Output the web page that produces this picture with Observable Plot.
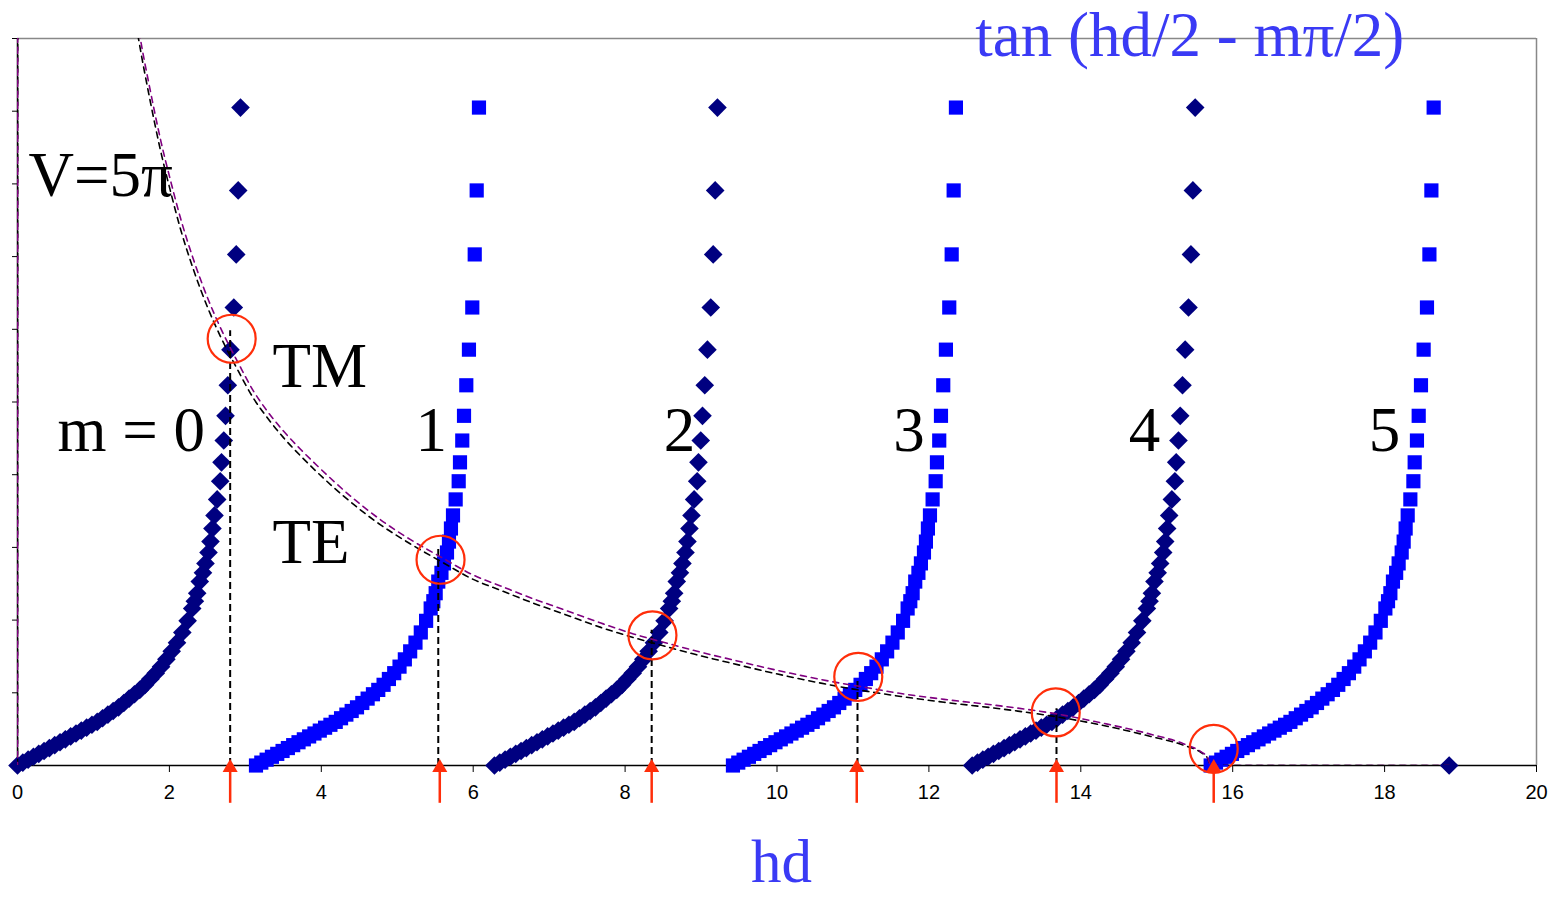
<!DOCTYPE html>
<html>
<head>
<meta charset="utf-8">
<script src="https://cdn.jsdelivr.net/npm/d3@7"></script>
<script src="https://cdn.jsdelivr.net/npm/@observablehq/plot@0.6"></script>
<style>
  html, body { margin: 0; padding: 0; background: #fff; }
  #chart svg { display: block; }
</style>
</head>
<body>
<div id="chart"></div>
<script>
// ---------- data ----------
// branch starting points (hd) for the two marker series
const darkBranchStarts = [0, 6.28, 12.57];      // m = 0, 2, 4  (navy diamonds)
const blueBranchStarts = [3.14, 9.42, 15.71];   // m = 1, 3, 5  (blue squares)
const extraDarkX = [18.85];                     // lone diamond on the axis
const extraDarkY = [0];

// shape of one tan(hd/2 - m*pi/2) branch, read from the m = 0 branch
const branchOffset = [0.00,0.07,0.14,0.21,0.28,0.35,0.42,0.49,0.56,0.63,0.70,0.77,0.84,0.91,0.98,1.05,1.12,1.19,1.26,1.33,1.40,1.47,1.54,1.61,1.68,1.75,1.82,1.89,1.96,2.03,2.10,2.17,2.24,2.30,2.335,2.366,2.400,2.442,2.475,2.515,2.541,2.567,2.594,2.629,2.669,2.686,2.716,2.739,2.769,2.804,2.848,2.880,2.906,2.936];
const branchValue  = [0.00,0.04,0.08,0.12,0.16,0.20,0.24,0.28,0.32,0.36,0.40,0.44,0.48,0.52,0.56,0.60,0.65,0.70,0.75,0.80,0.86,0.92,0.98,1.04,1.11,1.19,1.27,1.36,1.46,1.57,1.69,1.83,1.99,2.16,2.26,2.37,2.53,2.65,2.78,2.93,3.08,3.26,3.44,3.66,3.91,4.17,4.47,4.81,5.23,5.72,6.30,7.03,7.91,9.05];

// dashed curves (TE black, TM purple)
const teX = [0,0.02,0.5,1.0,1.3,1.5,1.593,1.751,1.883,2.014,2.146,2.317,2.515,2.673,2.910,3.107,3.292,3.502,3.726,3.950,4.38,4.78,5.17,5.57,6.00,6.36,6.80,7.15,7.68,8.11,8.56,8.99,9.43,9.87,10.31,10.74,11.19,11.63,12.20,12.94,13.68,14.30,14.92,15.35,15.58,15.67,15.71,17.0,18.85];
const teY = [0,60,31,15.7,12.0,10.6,10.0,9.12,8.46,7.90,7.38,6.82,6.27,5.90,5.42,5.05,4.78,4.51,4.26,4.03,3.63,3.31,3.05,2.81,2.56,2.41,2.23,2.10,1.90,1.76,1.63,1.51,1.40,1.29,1.19,1.10,1.02,0.95,0.87,0.78,0.67,0.55,0.40,0.28,0.18,0.10,0,0,0];
const tmX = teX;
const tmY = [0,60,31,15.9,12.2,10.8,10.15,9.27,8.61,8.05,7.53,6.96,6.40,6.02,5.53,5.15,4.87,4.60,4.35,4.12,3.71,3.38,3.11,2.87,2.62,2.47,2.29,2.16,1.96,1.81,1.68,1.56,1.45,1.34,1.24,1.15,1.07,0.99,0.91,0.82,0.71,0.58,0.43,0.30,0.19,0.11,0,0,0];

// intersections (red circles), vertical drop lines and arrows
const crossX = [2.82, 5.57, 8.36, 11.07, 13.67, 15.75];
const crossY = [5.87, 2.83, 1.79, 1.22, 0.73, 0.23];
const dropX = [2.80, 5.54, 8.35, 11.06, 13.68];
const dropTop = [5.98, 3.00, 1.86, 1.21, 0.78];
const arrowX = [2.80, 5.56, 8.35, 11.05, 13.68, 15.75];

// axes
const xTicks = [0,2,4,6,8,10,12,14,16,18,20];
const yTicks = [0,1,2,3,4,5,6,7,8,9,10];

// annotations
const noteText = ["V=5\u03c0", "TM", "TE", "m = 0", "1", "2", "3", "4", "5"];
const noteX    = [0.145, 3.357, 3.357, 0.527, 5.24, 8.51, 11.53, 14.63, 17.79];
const noteY    = [7.83, 5.20, 2.79, 4.33, 4.33, 4.33, 4.33, 4.33, 4.33];
const titleText = ["tan (hd/2 - m\u03c0/2)"];
const axisTitle = ["hd"];

// ---------- build tables ----------
const profile = branchOffset.map((o, i) => ({o, v: branchValue[i]}));
const dark = darkBranchStarts.flatMap(s => profile.map(p => ({x: s + p.o, y: p.v})))
  .concat(extraDarkX.map((x, i) => ({x, y: extraDarkY[i]})));
const blue = blueBranchStarts.flatMap(s => profile.map(p => ({x: s + p.o, y: p.v})));
const te = teX.map((x, i) => ({x, y: teY[i]}));
const tm = tmX.map((x, i) => ({x, y: tmY[i]}));
const crosses = crossX.map((x, i) => ({x, y: crossY[i]}));
const drops = dropX.map((x, i) => ({x, top: dropTop[i]}));
const arrows = arrowX.map(x => ({x}));
const notes = noteText.map((t, i) => ({t, x: noteX[i], y: noteY[i]}));

const serif = "'Liberation Serif', 'Times New Roman', serif";
const blueText = "#3a3af5";
const red = "#ff2e0a";

const chart = Plot.plot({
  width: 1551,
  height: 897,
  marginLeft: 17,
  marginRight: 15,
  marginTop: 38,
  marginBottom: 132,
  style: {fontFamily: "'Liberation Sans', Arial, sans-serif", fontSize: "20px", background: "#fff", overflow: "visible"},
  x: {domain: [0, 20]},
  y: {domain: [0, 10]},
  marks: [
    Plot.ruleY([10], {stroke: "#888", strokeWidth: 1.5}),
    Plot.ruleX([20], {stroke: "#888", strokeWidth: 1.5}),
    Plot.axisY({ticks: yTicks, tickSize: 5, tickFormat: () => "", stroke: "#000"}),
    Plot.axisX({ticks: xTicks, tickSize: 7, tickPadding: 12, fontSize: 20, label: null, fill: "#000", stroke: "#000"}),
    Plot.ruleX([0], {stroke: "#000", strokeWidth: 1.5}),
    Plot.ruleY([0], {stroke: "#000", strokeWidth: 1.5}),
    Plot.dot(dark, {x: "x", y: "y", symbol: "diamond2", r: 8.4, fill: "#000080", stroke: "none"}),
    Plot.dot(blue, {x: "x", y: "y", symbol: "square", r: 8, fill: "#0000ff", stroke: "none"}),
    Plot.ruleX(drops, {x: "x", y1: 0, y2: "top", stroke: "#000", strokeWidth: 2, strokeDasharray: "7,4"}),
    Plot.line(te, {x: "x", y: "y", clip: true, stroke: "#000", strokeWidth: 1.6, strokeDasharray: "6,5", curve: "monotone-x"}),
    Plot.line(tm, {x: "x", y: "y", clip: true, stroke: "#800080", strokeWidth: 1.6, strokeDasharray: "6,5", strokeDashoffset: 3, curve: "monotone-x"}),
    Plot.dot(crosses, {x: "x", y: "y", r: 24, stroke: red, strokeWidth: 2.2, fill: "none"}),
    Plot.ruleX(arrows, {x: "x", y1: -0.52, y2: 0, stroke: red, strokeWidth: 2.5}),
    Plot.dot(arrows, {x: "x", y: () => -0.03, symbol: "triangle", r: 5.6, fill: red, stroke: "none"}),
    Plot.text(notes, {x: "x", y: "y", text: "t", textAnchor: "start", lineAnchor: "bottom", fontFamily: serif, fontSize: 63, fill: "#000"}),
    Plot.text(titleText, {x: () => 12.61, y: () => 9.766, text: d => d, textAnchor: "start", lineAnchor: "bottom", fontFamily: serif, fontSize: 63, fill: blueText}),
    Plot.text(axisTitle, {x: () => 10.06, y: () => -1.609, text: d => d, textAnchor: "middle", lineAnchor: "bottom", fontFamily: serif, fontSize: 61, fill: blueText})
  ]
});
document.getElementById("chart").append(chart);
</script>
</body>
</html>
